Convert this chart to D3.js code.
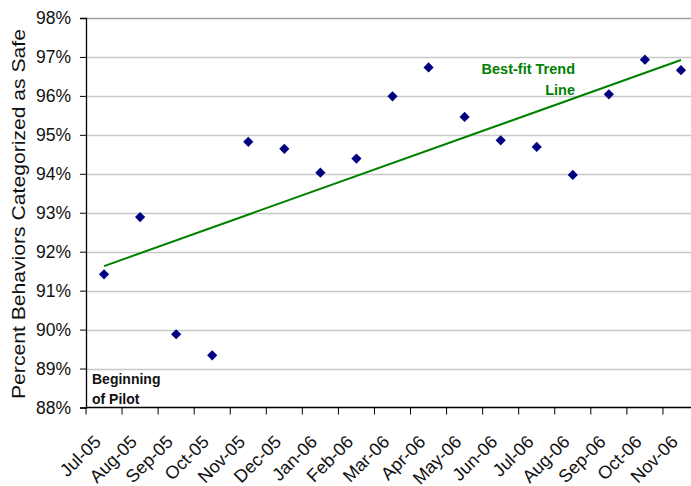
<!DOCTYPE html>
<html>
<head>
<meta charset="utf-8">
<script src="https://cdn.jsdelivr.net/npm/d3@7"></script>
<style>
  body { margin: 0; background: #fff; }
  svg { display: block; font-family: "Liberation Sans", Arial, sans-serif; }
</style>
</head>
<body>
<script>
// chart data
const months = ["Jul-05", "Aug-05", "Sep-05", "Oct-05", "Nov-05", "Dec-05", "Jan-06", "Feb-06",
    "Mar-06", "Apr-06", "May-06", "Jun-06", "Jul-06", "Aug-06", "Sep-06", "Oct-06", "Nov-06"];
const safePct = [91.42, 92.89, 89.88, 89.34, 94.82, 94.64, 94.03, 94.39,
    95.99, 96.73, 95.46, 94.86, 94.69, 93.97, 96.04, 96.93, 96.66];
const trendEnds = [91.63, 96.92]; // trend line value at first and last month
const yTicks = [88, 89, 90, 91, 92, 93, 94, 95, 96, 97, 98];

const width = 691;
const height = 486;
const plotLeft = 86, plotRight = 699, plotTop = 18, plotBottom = 407.5;

var svg = d3.select("body").append("svg")
    .attr("width", width)
    .attr("height", height);

// scales
var x_scale = d3.scaleBand().domain(months).range([plotLeft, plotRight]);
var y_scale = d3.scaleLinear().domain([88, 98]).range([plotBottom, plotTop]);
var xc = (d) => x_scale(d) + x_scale.bandwidth() / 2;

// gridlines
svg.append("g")
    .selectAll("line")
    .data(yTicks.filter(d => d > 88))
    .enter()
    .append("line")
    .attr("x1", plotLeft)
    .attr("x2", plotRight)
    .attr("y1", d => Math.round(y_scale(d)) + 0.5)
    .attr("y2", d => Math.round(y_scale(d)) + 0.5)
    .attr("stroke", d => d === 98 ? "#a0a0a0" : "#c8c8c8")
    .attr("stroke-width", 1.3);

// y axis
var y_axis = d3.axisLeft(y_scale)
    .tickValues(yTicks)
    .tickFormat(d => d + "%")
    .tickSize(6)
    .tickPadding(9);
var gy = svg.append("g")
    .attr("transform", "translate(" + plotLeft + ",0)")
    .call(y_axis);
gy.select(".domain").attr("stroke", "#000").attr("stroke-width", 1.3);
gy.selectAll(".tick line").attr("stroke", "#000");
gy.selectAll("text")
    .attr("font-size", "17.5px")
    .attr("font-family", "'Liberation Sans', Arial, sans-serif")
    .attr("fill", "#111");

// x axis: ticks between categories
var gx = svg.append("g");
gx.append("line")
    .attr("x1", plotLeft).attr("x2", plotRight)
    .attr("y1", plotBottom).attr("y2", plotBottom)
    .attr("stroke", "#000").attr("stroke-width", 1.3);
gx.selectAll(".xt")
    .data(months.concat(["end"]))
    .enter()
    .append("line")
    .attr("class", "xt")
    .attr("x1", (d, i) => i < months.length ? x_scale(d) : plotRight)
    .attr("x2", (d, i) => i < months.length ? x_scale(d) : plotRight)
    .attr("y1", plotBottom)
    .attr("y2", plotBottom + 7)
    .attr("stroke", "#000");
gx.selectAll(".xl")
    .data(months)
    .enter()
    .append("text")
    .attr("class", "xl")
    .attr("text-anchor", "end")
    .attr("font-size", "18px")
    .attr("fill", "#111")
    .attr("transform", d => "translate(" + (xc(d) - 2) + "," + 443 + ") rotate(-45)")
    .text(d => d);

// y axis title
svg.append("text")
    .attr("transform", "translate(25," + 214 + ") rotate(-90)")
    .attr("text-anchor", "middle")
    .attr("font-size", "18px")
    .attr("textLength", 370)
    .attr("lengthAdjust", "spacingAndGlyphs")
    .attr("fill", "#111")
    .text("Percent Behaviors Categorized as Safe");

// trend line
svg.append("line")
    .attr("x1", xc(months[0]))
    .attr("y1", y_scale(trendEnds[0]))
    .attr("x2", xc(months[months.length - 1]))
    .attr("y2", y_scale(trendEnds[1]))
    .attr("stroke", "#008000")
    .attr("stroke-width", 2);

// points
var diamond = d3.symbol().type(d3.symbolSquare).size(52);
svg.selectAll(".pt")
    .data(safePct)
    .enter()
    .append("path")
    .attr("class", "pt")
    .attr("d", diamond)
    .attr("transform", (d, i) => "translate(" + xc(months[i]) + "," + y_scale(d) + ") rotate(45)")
    .attr("fill", "#000080");

// annotations
var trendNote = svg.append("text")
    .attr("text-anchor", "end")
    .attr("font-size", "14.5px")
    .attr("font-weight", "bold")
    .attr("fill", "#008000");
trendNote.append("tspan").attr("x", 575).attr("y", 73.5).text("Best-fit Trend");
trendNote.append("tspan").attr("x", 575).attr("y", 94.5).text("Line");

var pilotNote = svg.append("text")
    .attr("font-size", "14px")
    .attr("font-weight", "bold")
    .attr("fill", "#111");
pilotNote.append("tspan").attr("x", 92).attr("y", 384).text("Beginning");
pilotNote.append("tspan").attr("x", 92).attr("y", 404).text("of Pilot");
</script>
</body>
</html>
